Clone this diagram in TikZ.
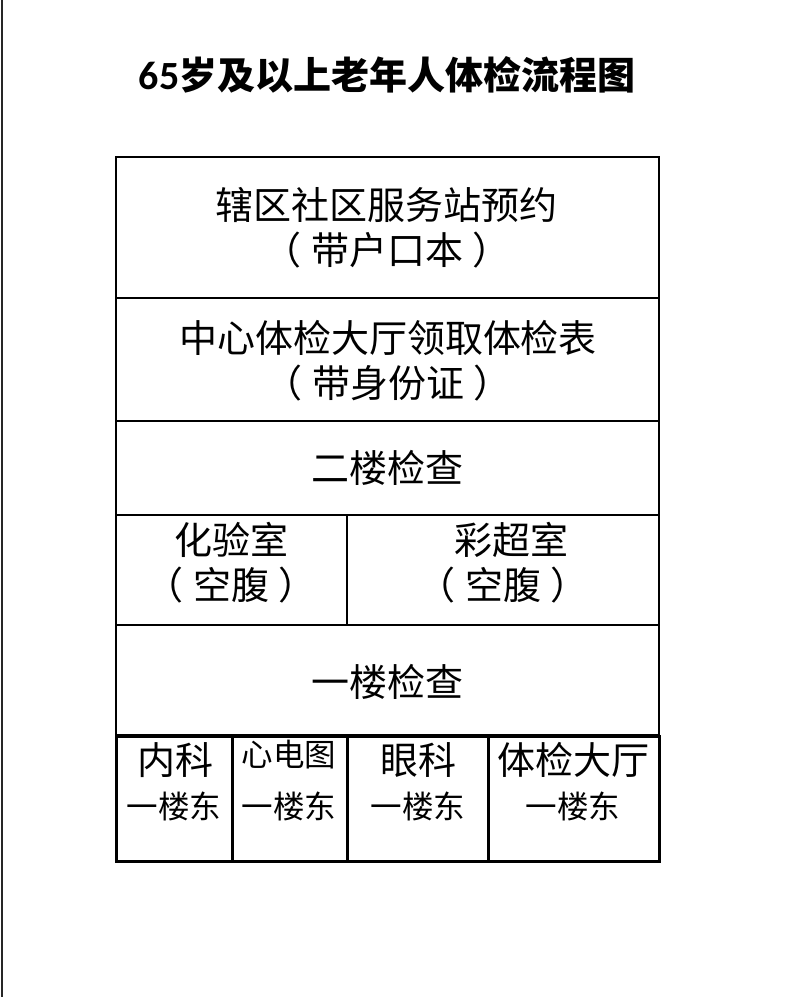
\documentclass[tikz,border=0pt]{standalone}
\usepackage{fontspec}
\setmainfont{Noto Sans CJK SC}
\newfontfamily\digitfont{Carlito}
\newcommand\lp{（\hspace{0.25em}}
\newcommand\rp{\hspace{0.25em}）}
\begin{document}
\begin{tikzpicture}[x=1pt,y=-1pt,
  grid/.style={line width=1.5pt,black},
  thick grid/.style={line width=3pt,black},
  big/.style={inner sep=0pt,font=\fontsize{38}{38}\selectfont},
  small/.style={inner sep=0pt,font=\fontsize{31.5}{31.5}\selectfont},
  ttl/.style={inner sep=0pt,font=\fontsize{38}{38}\selectfont\bfseries}]
\useasboundingbox (0,0) rectangle (800,997);
\fill[white] (0,0) rectangle (800,997);
% left page edge
\draw[line width=2pt,black!85] (2,0) -- (2,997);
% title
\node[ttl] (title) at (387,75) {{\digitfont\fontsize{40}{40}\selectfont 65}岁及以上老年人体检流程图};
% table frame
\draw[grid] (116,157) rectangle (659,735);
\draw[grid] (116,298) -- (659,298);
\draw[grid] (116,421) -- (659,421);
\draw[grid] (116,515) -- (659,515);
\draw[grid] (116,625) -- (659,625);
\draw[grid] (347,515) -- (347,625);
% bottom row
\draw[thick grid] (116,736) rectangle (659,861);
\draw[thick grid] (232,736) -- (232,861);
\draw[thick grid] (347,736) -- (347,861);
\draw[thick grid] (488,736) -- (488,861);
% row 1
\node[big] (r1a) at (386,205) {辖区社区服务站预约};
\node[big] (r1b) at (387,250) {\lp 带户口本\rp};
% row 2
\node[big] (r2a) at (388,338) {中心体检大厅领取体检表};
\node[big] (r2b) at (388,383) {\lp 带身份证\rp};
% row 3
\node[big] (r3) at (387,468) {二楼检查};
% row 4
\node[big] (r4la) at (231,540) {化验室};
\node[big] (r4lb) at (231,585) {\lp 空腹\rp};
\node[big] (r4ra) at (511,540) {彩超室};
\node[big] (r4rb) at (503,585) {\lp 空腹\rp};
% row 5
\node[big] (r5) at (387,682) {一楼检查};
% row 6
\node[big] (c1a) at (175,760) {内科};
\node[small] (c1b) at (174,806) {一楼东};
\node[small] (c2a) at (289,755) {心电图};
\node[small] (c2b) at (289,806) {一楼东};
\node[big] (c3a) at (418,760) {眼科};
\node[small] (c3b) at (418,806) {一楼东};
\node[big] (c4a) at (573,760) {体检大厅};
\node[small] (c4b) at (573,806) {一楼东};
\end{tikzpicture}
\end{document}
